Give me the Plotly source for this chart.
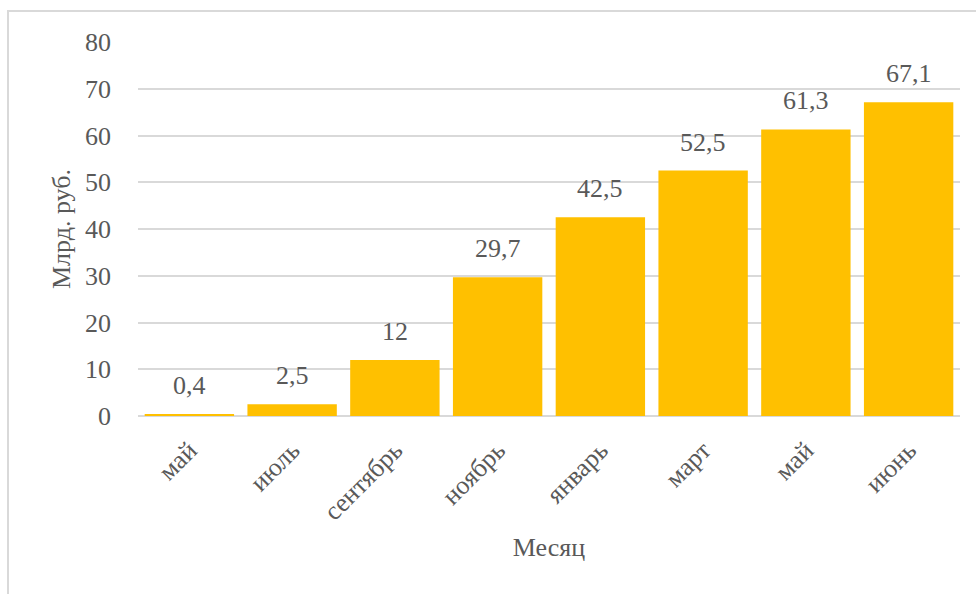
import plotly.graph_objects as go

# Monthly values, bn rubles
months = ["май", "июль", "сентябрь", "ноябрь", "январь", "март", "май", "июнь"]
values = [0.4, 2.5, 12, 29.7, 42.5, 52.5, 61.3, 67.1]
y_ticks = [0, 10, 20, 30, 40, 50, 60, 70, 80]

FONT = "Liberation Serif, Times New Roman, serif"
GREY = "#595959"
GRID = "#d9d9d9"

positions = list(range(len(months)))

fig = go.Figure(
    go.Bar(
        x=positions,
        y=values,
        marker=dict(color="#FFC000", line=dict(width=0)),
        hoverinfo="skip",
    )
)

# value labels above bars, with decimal comma
for xi, v in zip(positions, values):
    txt = (f"{v:g}").replace(".", ",")
    fig.add_annotation(
        x=xi, y=v, text=txt, showarrow=False,
        yanchor="bottom", yshift=12,
        font=dict(family=FONT, size=26, color=GREY),
    )

# outer chart frame
fig.add_shape(
    type="rect", xref="paper", yref="paper",
    x0=(8 - 138) / 822, x1=1.2, y0=-1.0, y1=(416 - 11) / 374,
    line=dict(color=GRID, width=2), fillcolor="rgba(0,0,0,0)", layer="below",
)

fig.update_layout(
    width=976, height=594,
    margin=dict(l=138, r=16, t=42, b=178),
    paper_bgcolor="white", plot_bgcolor="white",
    bargap=0.13,
    showlegend=False,
    font=dict(family=FONT, size=26, color=GREY),
    xaxis=dict(
        tickmode="array", tickvals=positions, ticktext=months,
        tickangle=-45, range=[-0.5, len(months) - 0.5],
        showgrid=False, zeroline=False, showline=False, ticks="",
        ticklabelstandoff=13,
        tickfont=dict(family=FONT, size=26, color=GREY),
        title=dict(text="Месяц", standoff=12,
                   font=dict(family=FONT, size=26, color=GREY)),
    ),
    yaxis=dict(
        range=[0, 80], tickmode="array", tickvals=y_ticks,
        showgrid=True, gridcolor=GRID, gridwidth=1.5,
        zeroline=True, zerolinecolor=GRID, zerolinewidth=1.5,
        showline=False, ticks="", ticklabelstandoff=26,
        tickfont=dict(family=FONT, size=26, color=GREY),
        title=dict(text="Млрд. руб.", standoff=6,
                   font=dict(family=FONT, size=26, color=GREY)),
    ),
)

fig.write_html("out.html")
